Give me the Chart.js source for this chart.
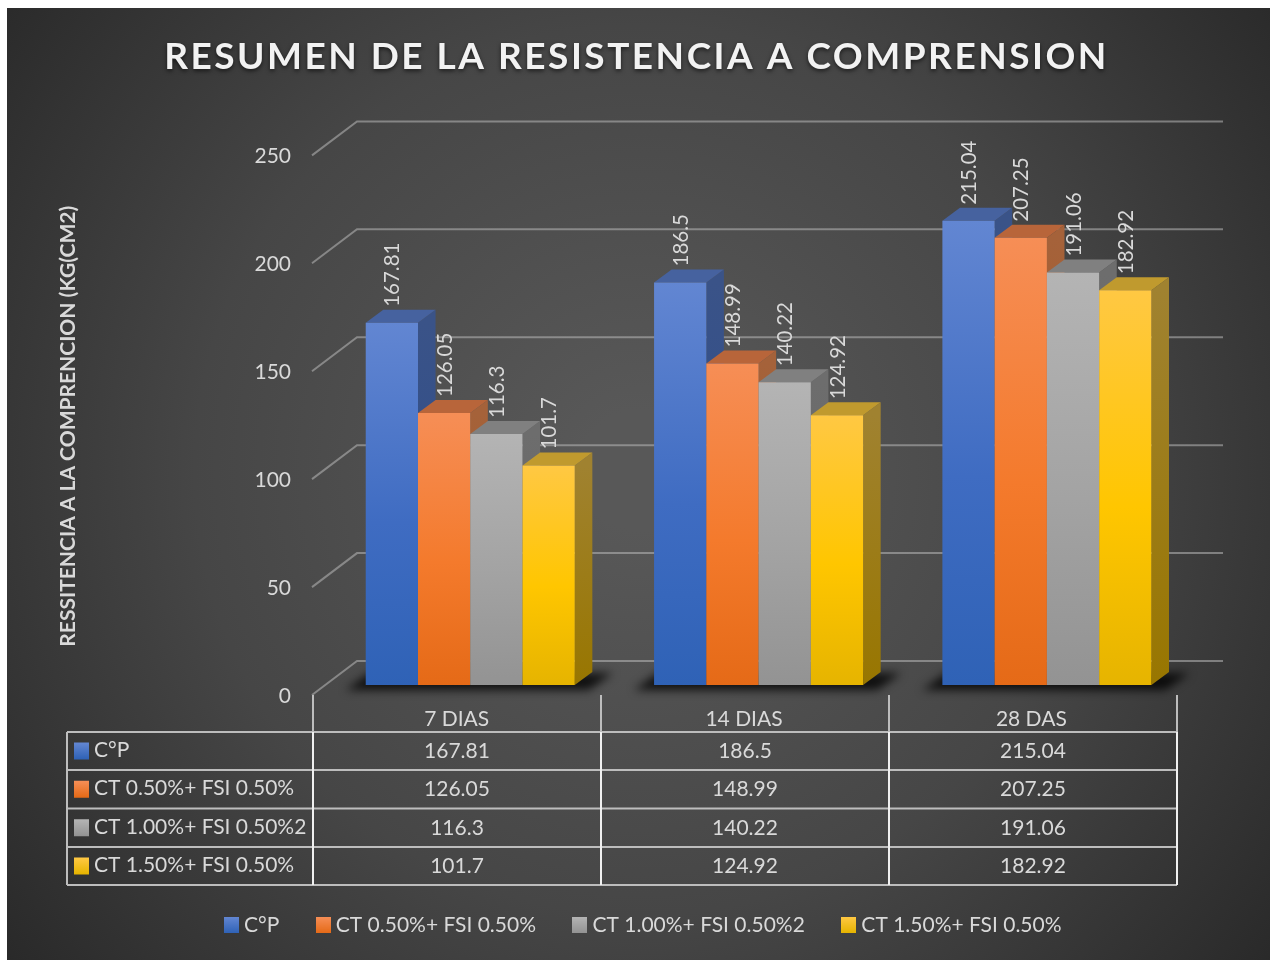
<!DOCTYPE html>
<html><head><meta charset="utf-8">
<style>html,body{margin:0;padding:0;background:#fff}#w{width:1275px;height:960px}</style>
<script src="https://cdn.jsdelivr.net/npm/chart.js@4"></script>
</head><body><div id="w"><canvas id="c" width="1275" height="960"></canvas></div>
<script>
const categories = ['7 DIAS','14 DIAS','28 DAS'];
const seriesNames = ['C°P','CT 0.50%+ FSI 0.50%','CT 1.00%+ FSI 0.50%2','CT 1.50%+ FSI 0.50%'];
const seriesCP  = [167.81,186.5,215.04];
const seriesCT05 = [126.05,148.99,207.25];
const seriesCT10 = [116.3,140.22,191.06];
const seriesCT15 = [101.7,124.92,182.92];
const seriesLabels = [['167.81','186.5','215.04'],['126.05','148.99','207.25'],['116.3','140.22','191.06'],['101.7','124.92','182.92']];
const seriesValues = [seriesCP,seriesCT05,seriesCT10,seriesCT15];

const FONT = 'Lato, "Open Sans", sans-serif';
const TXT = '#d9d9d9';
// colours: [top, middle, bottom, side top, side bottom, cap]
const palette = [
 ['#6286d2','#3f6cc2','#2f62b6','#3a5388','#2a4a8a','#46629f'],
 ['#f68e56','#f47a2c','#e56a17','#a5623a','#a0541c','#b8653a'],
 ['#b4b4b4','#a3a3a3','#939393','#6d6d6d','#636363','#808080'],
 ['#ffc843','#ffc600','#e6b400','#a08230','#987600','#c09a2e']
];
// oblique depth of the 3-D view
const WALL = {dx:45, dy:-35};            // front plane -> back wall
const BAR  = {dx:12, dy:-11, sx:289/288}; // front plane -> front of bars
const SIDE = {dx:17.5, dy:-13};          // bar thickness
const TABLE = {x0:67, xs:[313,601,889,1177], ys:[732,770,808.5,847,885], top:695};

function barGrad(ctx, yScale, v, i){
  const g = ctx.chart.ctx.createLinearGradient(0, yScale.getPixelForValue(v), 0, yScale.getPixelForValue(0));
  g.addColorStop(0, palette[i][0]); g.addColorStop(.55, palette[i][1]); g.addColorStop(1, palette[i][2]);
  return g;
}

function drawFaces(ctx, meta, i){
  meta.data.forEach(el=>{
    const r = el.x+el.width/2, l = el.x-el.width/2, t = el.y, b = el.base;
    const g = ctx.createLinearGradient(0,t,0,b);
    g.addColorStop(0,palette[i][3]); g.addColorStop(1,palette[i][4]);
    ctx.fillStyle = g;
    ctx.beginPath(); ctx.moveTo(r,t); ctx.lineTo(r+SIDE.dx,t+SIDE.dy); ctx.lineTo(r+SIDE.dx,b+SIDE.dy); ctx.lineTo(r,b); ctx.closePath(); ctx.fill();
    ctx.fillStyle = palette[i][5];
    ctx.beginPath(); ctx.moveTo(l,t); ctx.lineTo(l+SIDE.dx,t+SIDE.dy); ctx.lineTo(r+SIDE.dx,t+SIDE.dy); ctx.lineTo(r,t); ctx.closePath(); ctx.fill();
  });
}

function swatch(i){
  const s = document.createElement('canvas'); s.width = 15; s.height = 16;
  const c = s.getContext('2d'), g = c.createLinearGradient(0,0,0,16);
  g.addColorStop(0,palette[i][0]); g.addColorStop(1,palette[i][2]);
  c.fillStyle = g; c.fillRect(0,0,15,16);
  return s;
}

const view3d = {
  id:'view3d',
  beforeDraw(chart){
    const ctx = chart.ctx;
    ctx.save();
    const g = ctx.createRadialGradient(640,470,60,640,470,830);
    g.addColorStop(0,'#585858'); g.addColorStop(.5,'#464646'); g.addColorStop(1,'#272727');
    ctx.fillStyle = g; ctx.fillRect(7,8,1263,952);
    ctx.restore();
    const tb = chart.titleBlock;
    if(tb && !tb._wrapped){
      const d = tb.draw;
      tb.draw = function(){
        const c = this.ctx; c.save();
        c.letterSpacing = '2.5px';
        c.shadowColor='rgba(0,0,0,.6)'; c.shadowBlur=4; c.shadowOffsetY=2;
        d.call(this); c.restore();
      };
      tb._wrapped = true;
    }
  },
  beforeDatasetsDraw(chart){
    const ctx = chart.ctx, y = chart.scales.y, a = chart.chartArea;
    ctx.save();
    // gridlines along side wall and back wall
    ctx.strokeStyle = 'rgba(185,185,185,.55)'; ctx.lineWidth = 2;
    y.ticks.forEach(t=>{
      const p = y.getPixelForValue(t.value);
      ctx.beginPath(); ctx.moveTo(a.left-1,p-1);
      ctx.lineTo(a.left+WALL.dx-1,p+WALL.dy);
      ctx.lineTo(1223,p+WALL.dy);
      ctx.stroke();
    });
    // floor shadow
    const m0 = chart.getDatasetMeta(0), m3 = chart.getDatasetMeta(3);
    const by = y.getPixelForValue(0)+BAR.dy;
    const px = v => v*BAR.sx+BAR.dx;
    ctx.save();
    ctx.filter = 'blur(5px)'; ctx.fillStyle='rgba(0,0,0,.8)';
    categories.forEach((_,i)=>{
      const l = px(m0.data[i].x-m0.data[i].width/2), r = px(m3.data[i].x+m3.data[i].width/2);
      ctx.beginPath();
      ctx.moveTo(l-20,by+5); ctx.lineTo(l+4,by-12); ctx.lineTo(r+38,by-12); ctx.lineTo(r+14,by+5);
      ctx.closePath(); ctx.fill();
    });
    ctx.restore();
    // bars in series order so later bars hide the side face of earlier ones
    ctx.save(); ctx.translate(BAR.dx,BAR.dy); ctx.scale(BAR.sx,1);
    seriesValues.forEach((_,i)=>{
      const meta = chart.getDatasetMeta(i);
      drawFaces(ctx, meta, i);
      meta.controller.draw();
    });
    ctx.restore();
    // data labels
    ctx.fillStyle = TXT; ctx.font = '20.5px '+FONT; ctx.textAlign='left'; ctx.textBaseline='middle';
    seriesLabels.forEach((labs,i)=>{
      chart.getDatasetMeta(i).data.forEach((el,j)=>{
        ctx.save();
        ctx.translate(px(el.x)+1, el.y+BAR.dy-16);
        ctx.rotate(-Math.PI/2);
        ctx.fillText(labs[j],0,0);
        ctx.restore();
      });
    });
    ctx.restore();
    return false;
  },
  afterDraw(chart){
    const ctx = chart.ctx, T = TABLE, xs = T.xs, ys = T.ys;
    ctx.save();
    ctx.lineWidth = 2;
    ctx.strokeStyle = '#bdbdbd';
    ys.forEach(v=>{ctx.beginPath();ctx.moveTo(T.x0,v);ctx.lineTo(xs[3],v);ctx.stroke();});
    ctx.beginPath();ctx.moveTo(T.x0,ys[0]);ctx.lineTo(T.x0,ys[4]);ctx.stroke();
    xs.forEach(v=>{ctx.beginPath();ctx.moveTo(v,T.top);ctx.lineTo(v,ys[0]);ctx.stroke();});
    ctx.strokeStyle = '#f0f0f0';
    xs.forEach(v=>{ctx.beginPath();ctx.moveTo(v,ys[0]);ctx.lineTo(v,ys[4]);ctx.stroke();});
    ctx.font = '21px '+FONT; ctx.fillStyle = TXT; ctx.textBaseline='middle';
    seriesNames.forEach((n,i)=>{
      const cy = (ys[i]+ys[i+1])/2;
      const g = ctx.createLinearGradient(0,cy-8,0,cy+8);
      g.addColorStop(0,palette[i][0]); g.addColorStop(1,palette[i][2]);
      ctx.fillStyle = g; ctx.fillRect(74,cy-8.5,15,17);
      ctx.fillStyle = TXT; ctx.textAlign='left';
      ctx.fillText(n,94,cy-1);
      ctx.textAlign='center';
      seriesLabels[i].forEach((s,j)=>ctx.fillText(s,(xs[j]+xs[j+1])/2,cy));
    });
    ctx.restore();
  },
  afterLayout(chart){
    const lg = chart.legend;
    if(lg){ lg.left += 9; lg.right += 9; }
  }
};

const datasets = seriesValues.map((vals,i)=>({
  label: seriesNames[i],
  data: vals,
  clip: false,
  backgroundColor(c){ return c.parsed && c.chart.chartArea ? barGrad(c, c.chart.scales.y, c.parsed.y, i) : palette[i][1]; },
  borderWidth: 0
}));

new Chart(document.getElementById('c'),{
  type:'bar',
  data:{labels:categories,datasets},
  plugins:[view3d],
  options:{
    responsive:false, animation:false,
    devicePixelRatio:1,
    layout:{padding:{left:5,right:7,top:8,bottom:14.5}},
    datasets:{bar:{categoryPercentage:.725,barPercentage:1}},
    scales:{
      x:{
        grid:{display:false}, border:{display:false},
        ticks:{color:TXT,font:{size:21,family:FONT},padding:3,maxRotation:0},
        afterFit(s){ s.height = 176.5; }
      },
      y:{
        min:0,max:250,
        grid:{display:false}, border:{display:false},
        ticks:{stepSize:50,color:TXT,font:{size:21,family:FONT},padding:14},
        title:{display:true,text:'RESSITENCIA A LA COMPRENCION (KG(CM2)',color:TXT,font:{size:21,weight:'bold',family:FONT},padding:{top:51,bottom:0}},
        afterFit(s){ s.width = 308; }
      },
      yr:{
        type:'linear',position:'right',
        grid:{display:false}, border:{display:false}, ticks:{display:false},
        afterFit(s){ s.width = 93; }
      }
    },
    plugins:{
      title:{display:true,text:'RESUMEN DE LA RESISTENCIA A COMPRENSION',color:'#f2f2f2',
        font:{size:37,weight:'bold',family:FONT,lineHeight:1.2},padding:{top:27,bottom:77}},
      legend:{position:'bottom',
        labels:{color:TXT,font:{size:21,family:FONT},usePointStyle:true,boxWidth:4,boxHeight:15,padding:42,
          generateLabels(chart){
            return seriesNames.map((n,i)=>({text:n,pointStyle:swatch(i),fillStyle:palette[i][1],strokeStyle:'transparent',lineWidth:0,datasetIndex:i,fontColor:TXT}));
          }}},
      tooltip:{enabled:false}
    }
  }
});
</script></body></html>
